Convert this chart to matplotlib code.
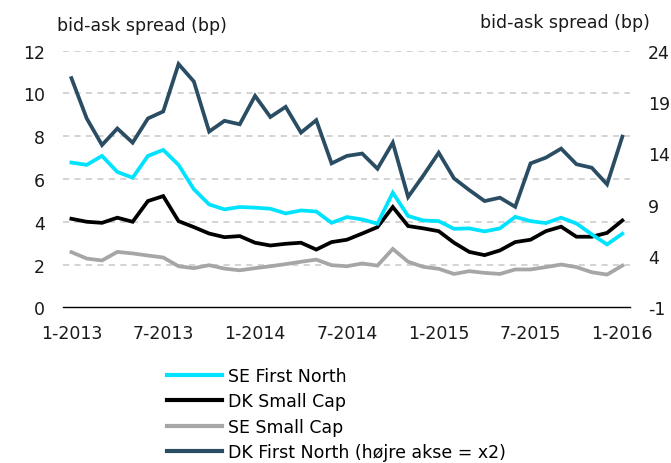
import numpy as np
import matplotlib
matplotlib.use("Agg")
import matplotlib.pyplot as plt
from matplotlib.lines import Line2D

# monthly observations, 1-2013 .. 1-2016
months = np.arange(37)
tick_pos = [0, 6, 12, 18, 24, 30, 36]
tick_labels = ["1-2013", "7-2013", "1-2014", "7-2014", "1-2015", "7-2015", "1-2016"]
right_ticks = [-1, 4, 9, 14, 19, 24]

se_first_north = [6.77, 6.66, 7.08, 6.33, 6.06, 7.08, 7.36, 6.66, 5.52, 4.81, 4.58, 4.69, 4.66,
                  4.61, 4.39, 4.53, 4.48, 3.95, 4.22, 4.11, 3.91, 5.36, 4.27, 4.06, 4.03,
                  3.67, 3.69, 3.55, 3.69, 4.23, 4.03, 3.94, 4.19, 3.92, 3.41, 2.94, 3.44]
dk_small_cap = [4.14, 4.00, 3.95, 4.19, 4.00, 4.97, 5.20, 4.03, 3.75, 3.45, 3.28, 3.33, 3.02,
                2.89, 2.97, 3.02, 2.70, 3.05, 3.16, 3.45, 3.75, 4.69, 3.80, 3.69, 3.56,
                3.02, 2.59, 2.44, 2.66, 3.05, 3.16, 3.56, 3.77, 3.30, 3.30, 3.48, 4.06]
se_small_cap = [2.58, 2.28, 2.19, 2.59, 2.52, 2.42, 2.33, 1.92, 1.83, 1.97, 1.81, 1.73, 1.83,
                1.92, 2.02, 2.13, 2.23, 1.97, 1.92, 2.05, 1.95, 2.73, 2.13, 1.89, 1.80,
                1.56, 1.69, 1.61, 1.56, 1.77, 1.77, 1.88, 2.00, 1.88, 1.64, 1.53, 1.95]
# right axis
dk_first_north = [21.33, 17.40, 14.81, 16.42, 15.04, 17.40, 18.08, 22.70, 21.00, 16.12, 17.17, 16.83, 19.60,
                  17.54, 18.53, 16.02, 17.23, 13.02, 13.75, 13.98, 12.50, 15.04, 9.75, 11.85, 14.06,
                  11.56, 10.42, 9.35, 9.68, 8.79, 13.02, 13.58, 14.46, 12.94, 12.60, 10.98, 15.63]

c_cyan = "#00e3ff"
c_black = "#000000"
c_gray = "#a6a6a6"
c_dark = "#2a4d63"
lw = 2.7

plt.rcParams["font.family"] = ["DejaVu Sans"]
plt.rcParams["font.size"] = 12

fig = plt.figure(figsize=(6.71, 4.64), dpi=100)
ax = fig.add_axes([63 / 671, 1 - 308.3 / 464, (630 - 63) / 671, (308.3 - 51.7) / 464])
ax2 = ax.twinx()

ax.plot(months, se_small_cap, color=c_gray, lw=lw, solid_joinstyle="miter")
ax.plot(months, dk_small_cap, color=c_black, lw=lw, solid_joinstyle="miter")
ax.plot(months, se_first_north, color=c_cyan, lw=lw, solid_joinstyle="miter")
ax2.plot(months, dk_first_north, color=c_dark, lw=lw, solid_joinstyle="miter")

ax.set_xlim(-0.55, 36.5)
ax.set_ylim(0, 12)
ax2.set_ylim(-1, 24)
ax.set_yticks(range(0, 13, 2))
ax2.set_yticks(right_ticks)
ax2.set_yticklabels([str(t) for t in right_ticks])
ax.set_xticks(tick_pos)
ax.set_xticklabels(tick_labels)

for y in range(2, 13, 2):
    ax.axhline(y, color="#c8c8c8", lw=1.1, ls=(0, (4, 3.5)), zorder=0)

for a in (ax, ax2):
    for s in ("top", "left", "right", "bottom"):
        a.spines[s].set_visible(False)
    a.tick_params(length=0, labelsize=12.5, colors="#1a1a1a")
ax.spines["bottom"].set_visible(True)
ax.spines["bottom"].set_color("#000000")
ax.spines["bottom"].set_linewidth(1.0)
ax.tick_params(axis="y", pad=13)
ax.tick_params(axis="x", pad=12)
ax2.tick_params(axis="y", pad=13)

fig.text(57 / 671, 1 - 26 / 464, "bid-ask spread (bp)", fontsize=12.5, ha="left", va="center", color="#1a1a1a")
fig.text(650 / 671, 1 - 23 / 464, "bid-ask spread (bp)", fontsize=12.5, ha="right", va="center", color="#1a1a1a")

handles = [Line2D([], [], color=c_cyan, lw=3),
           Line2D([], [], color=c_black, lw=3),
           Line2D([], [], color=c_gray, lw=3),
           Line2D([], [], color=c_dark, lw=3)]
labels = ["SE First North", "DK Small Cap", "SE Small Cap", "DK First North (højre akse = x2)"]
fig.legend(handles, labels, loc="upper left", bbox_to_anchor=(162 / 671, 1 - 363 / 464),
           frameon=False, fontsize=12.5, handlelength=3.15, handletextpad=0.35,
           labelspacing=0.42, borderaxespad=0, borderpad=0.3)

fig.savefig("out.png", dpi=100)
